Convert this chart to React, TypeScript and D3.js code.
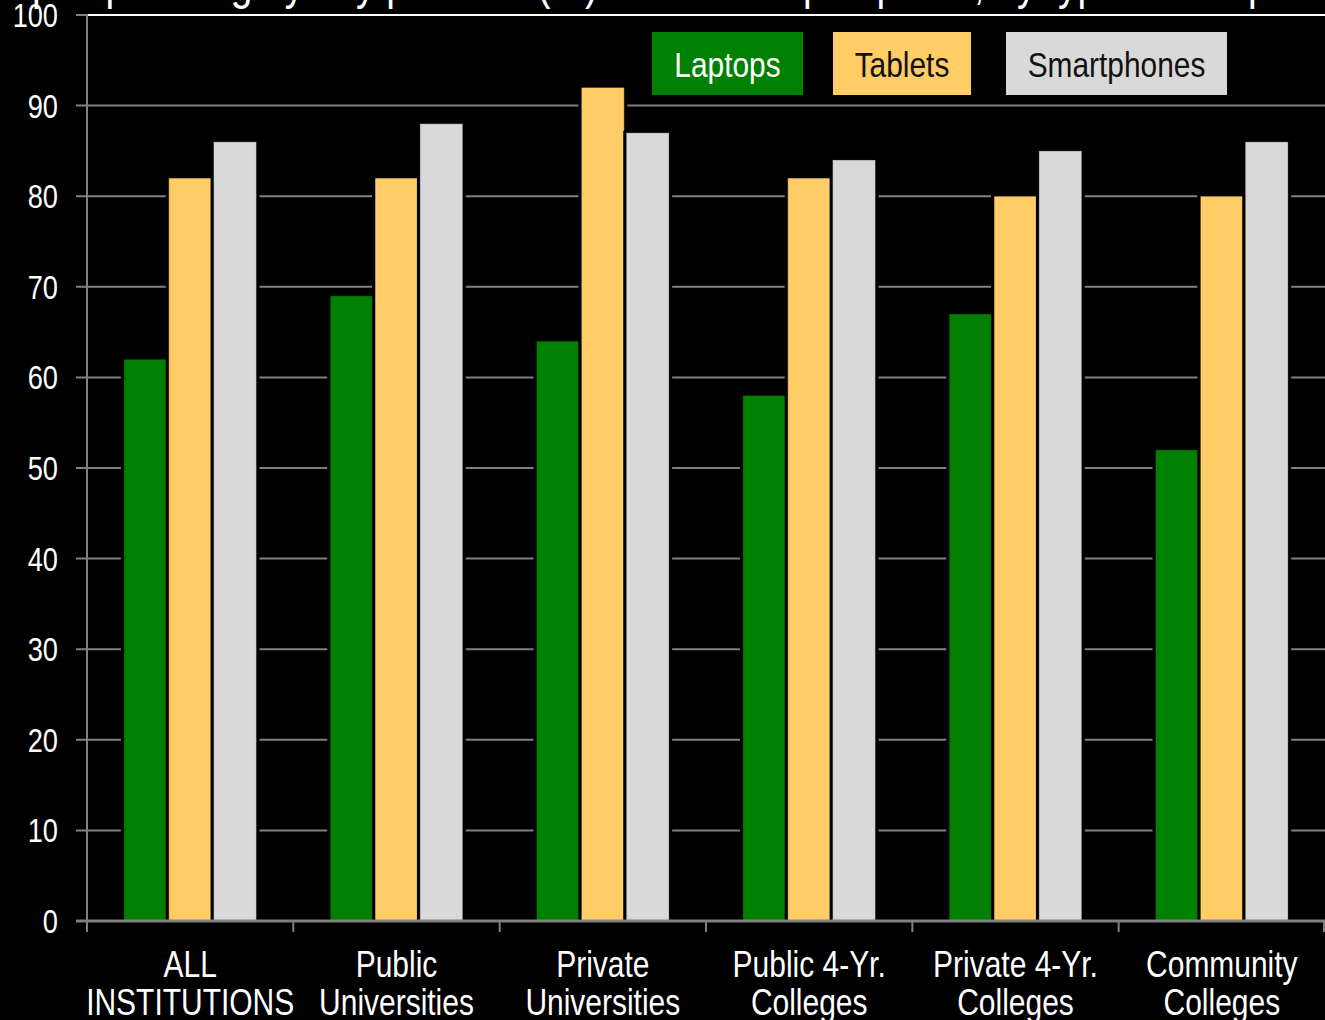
import React from "react";
import * as d3 from "d3";

const categories = [
  ["ALL", "INSTITUTIONS"],
  ["Public", "Universities"],
  ["Private", "Universities"],
  ["Public 4-Yr.", "Colleges"],
  ["Private 4-Yr.", "Colleges"],
  ["Community", "Colleges"],
];
const seriesNames = ["Laptops", "Tablets", "Smartphones"];
const laptops = [62, 69, 64, 58, 67, 52];
const tablets = [82, 82, 92, 82, 80, 80];
const smartphones = [86, 88, 87, 84, 85, 86];
const yTicks = [0, 10, 20, 30, 40, 50, 60, 70, 80, 90, 100];
const titleText = "Campus planning by key platform (%) for the campus portal, by type of campus";

const colors = ["#008000", "#FFCC66", "#D9D9D9"];
const legendText = ["#FFFFFF", "#111111", "#111111"];
const FONT = "'Liberation Sans', Arial, sans-serif";

function NText({ x, y, size, sx, anchor, fill, children }: any) {
  return (
    <text
      transform={`translate(${x},${y}) scale(${sx},1)`}
      textAnchor={anchor}
      fill={fill}
      fontFamily={FONT}
      fontSize={size}
    >
      {children}
    </text>
  );
}

export default function App() {
  const W = 1325, H = 1020;
  const left = 87, right = 1325, top = 15, bottom = 921;
  const values = [laptops, tablets, smartphones];

  const x0 = d3.scaleBand<number>().domain(d3.range(categories.length)).range([left, right]).padding(0);
  const x1 = d3.scaleBand<number>().domain([0, 1, 2]).range([0, x0.bandwidth()]).paddingInner(0).paddingOuter(0.8);
  const y = d3.scaleLinear().domain([0, 100]).range([bottom, top]);
  const bw = x1.bandwidth();

  const legendBoxes = [
    { x: 652, w: 151 },
    { x: 833, w: 138 },
    { x: 1006, w: 221 },
  ];

  return (
    <svg width={W} height={H} style={{ position: "absolute", left: 0, top: 0, background: "#000" }}>
      <rect x={0} y={0} width={W} height={H} fill="#000" />
      <NText x={-50} y={-1} size={48} sx={0.81} anchor="start" fill="#fff">{titleText}</NText>
      {/* gridlines */}
      {yTicks.filter((t) => t > 0 && t < 100).map((t) => (
        <line key={t} x1={left - 11} x2={right} y1={y(t)} y2={y(t)} stroke="#808080" strokeWidth={2} />
      ))}
      <line x1={left - 11} x2={left} y1={y(100)} y2={y(100)} stroke="#808080" strokeWidth={2} />
      <line x1={left} x2={right} y1={y(100)} y2={y(100)} stroke="#ffffff" strokeWidth={2} />
      {/* bars */}
      {categories.map((c, i) => (
        <g key={i} transform={`translate(${x0(i)},0)`}>
          {values.map((vals, s) => {
            const bx = x1(s)!;
            const by = y(vals[i]);
            return (
              <g key={s}>
                <rect x={bx - 2} y={by - 2} width={bw + 4} height={bottom - by + 2} fill="#000" />
                <rect x={bx + 1} y={by} width={bw - 2} height={bottom - by} fill={colors[s]} stroke="rgba(0,0,0,0.35)" strokeWidth={1} />
              </g>
            );
          })}
        </g>
      ))}
      {/* y axis */}
      <line x1={left} x2={left} y1={top - 1} y2={bottom + 11} stroke="#808080" strokeWidth={2} />
      {yTicks.map((t) => (
        <NText key={t} x={58} y={y(t) + 12} size={34} sx={0.8} anchor="end" fill="#fff">{t}</NText>
      ))}
      {/* x axis */}
      <line x1={left - 11} x2={right} y1={bottom} y2={bottom} stroke="#808080" strokeWidth={3} />
      {d3.range(categories.length + 1).map((i) => {
        const xx = i < categories.length ? x0(i)! : right - 1;
        return <line key={i} x1={xx} x2={xx} y1={bottom} y2={bottom + 11} stroke="#808080" strokeWidth={2} />;
      })}
      {categories.map((c, i) => (
        <g key={i}>
          <NText x={x0(i)! + x0.bandwidth() / 2} y={977} size={37} sx={0.81} anchor="middle" fill="#fff">{c[0]}</NText>
          <NText x={x0(i)! + x0.bandwidth() / 2} y={1015} size={37} sx={0.81} anchor="middle" fill="#fff">{c[1]}</NText>
        </g>
      ))}
      {/* legend */}
      {seriesNames.map((n, s) => (
        <g key={n}>
          <rect x={legendBoxes[s].x} y={32} width={legendBoxes[s].w} height={63} fill={colors[s]} />
          <NText x={legendBoxes[s].x + legendBoxes[s].w / 2} y={77} size={36} sx={0.83} anchor="middle" fill={legendText[s]}>{n}</NText>
        </g>
      ))}
    </svg>
  );
}
